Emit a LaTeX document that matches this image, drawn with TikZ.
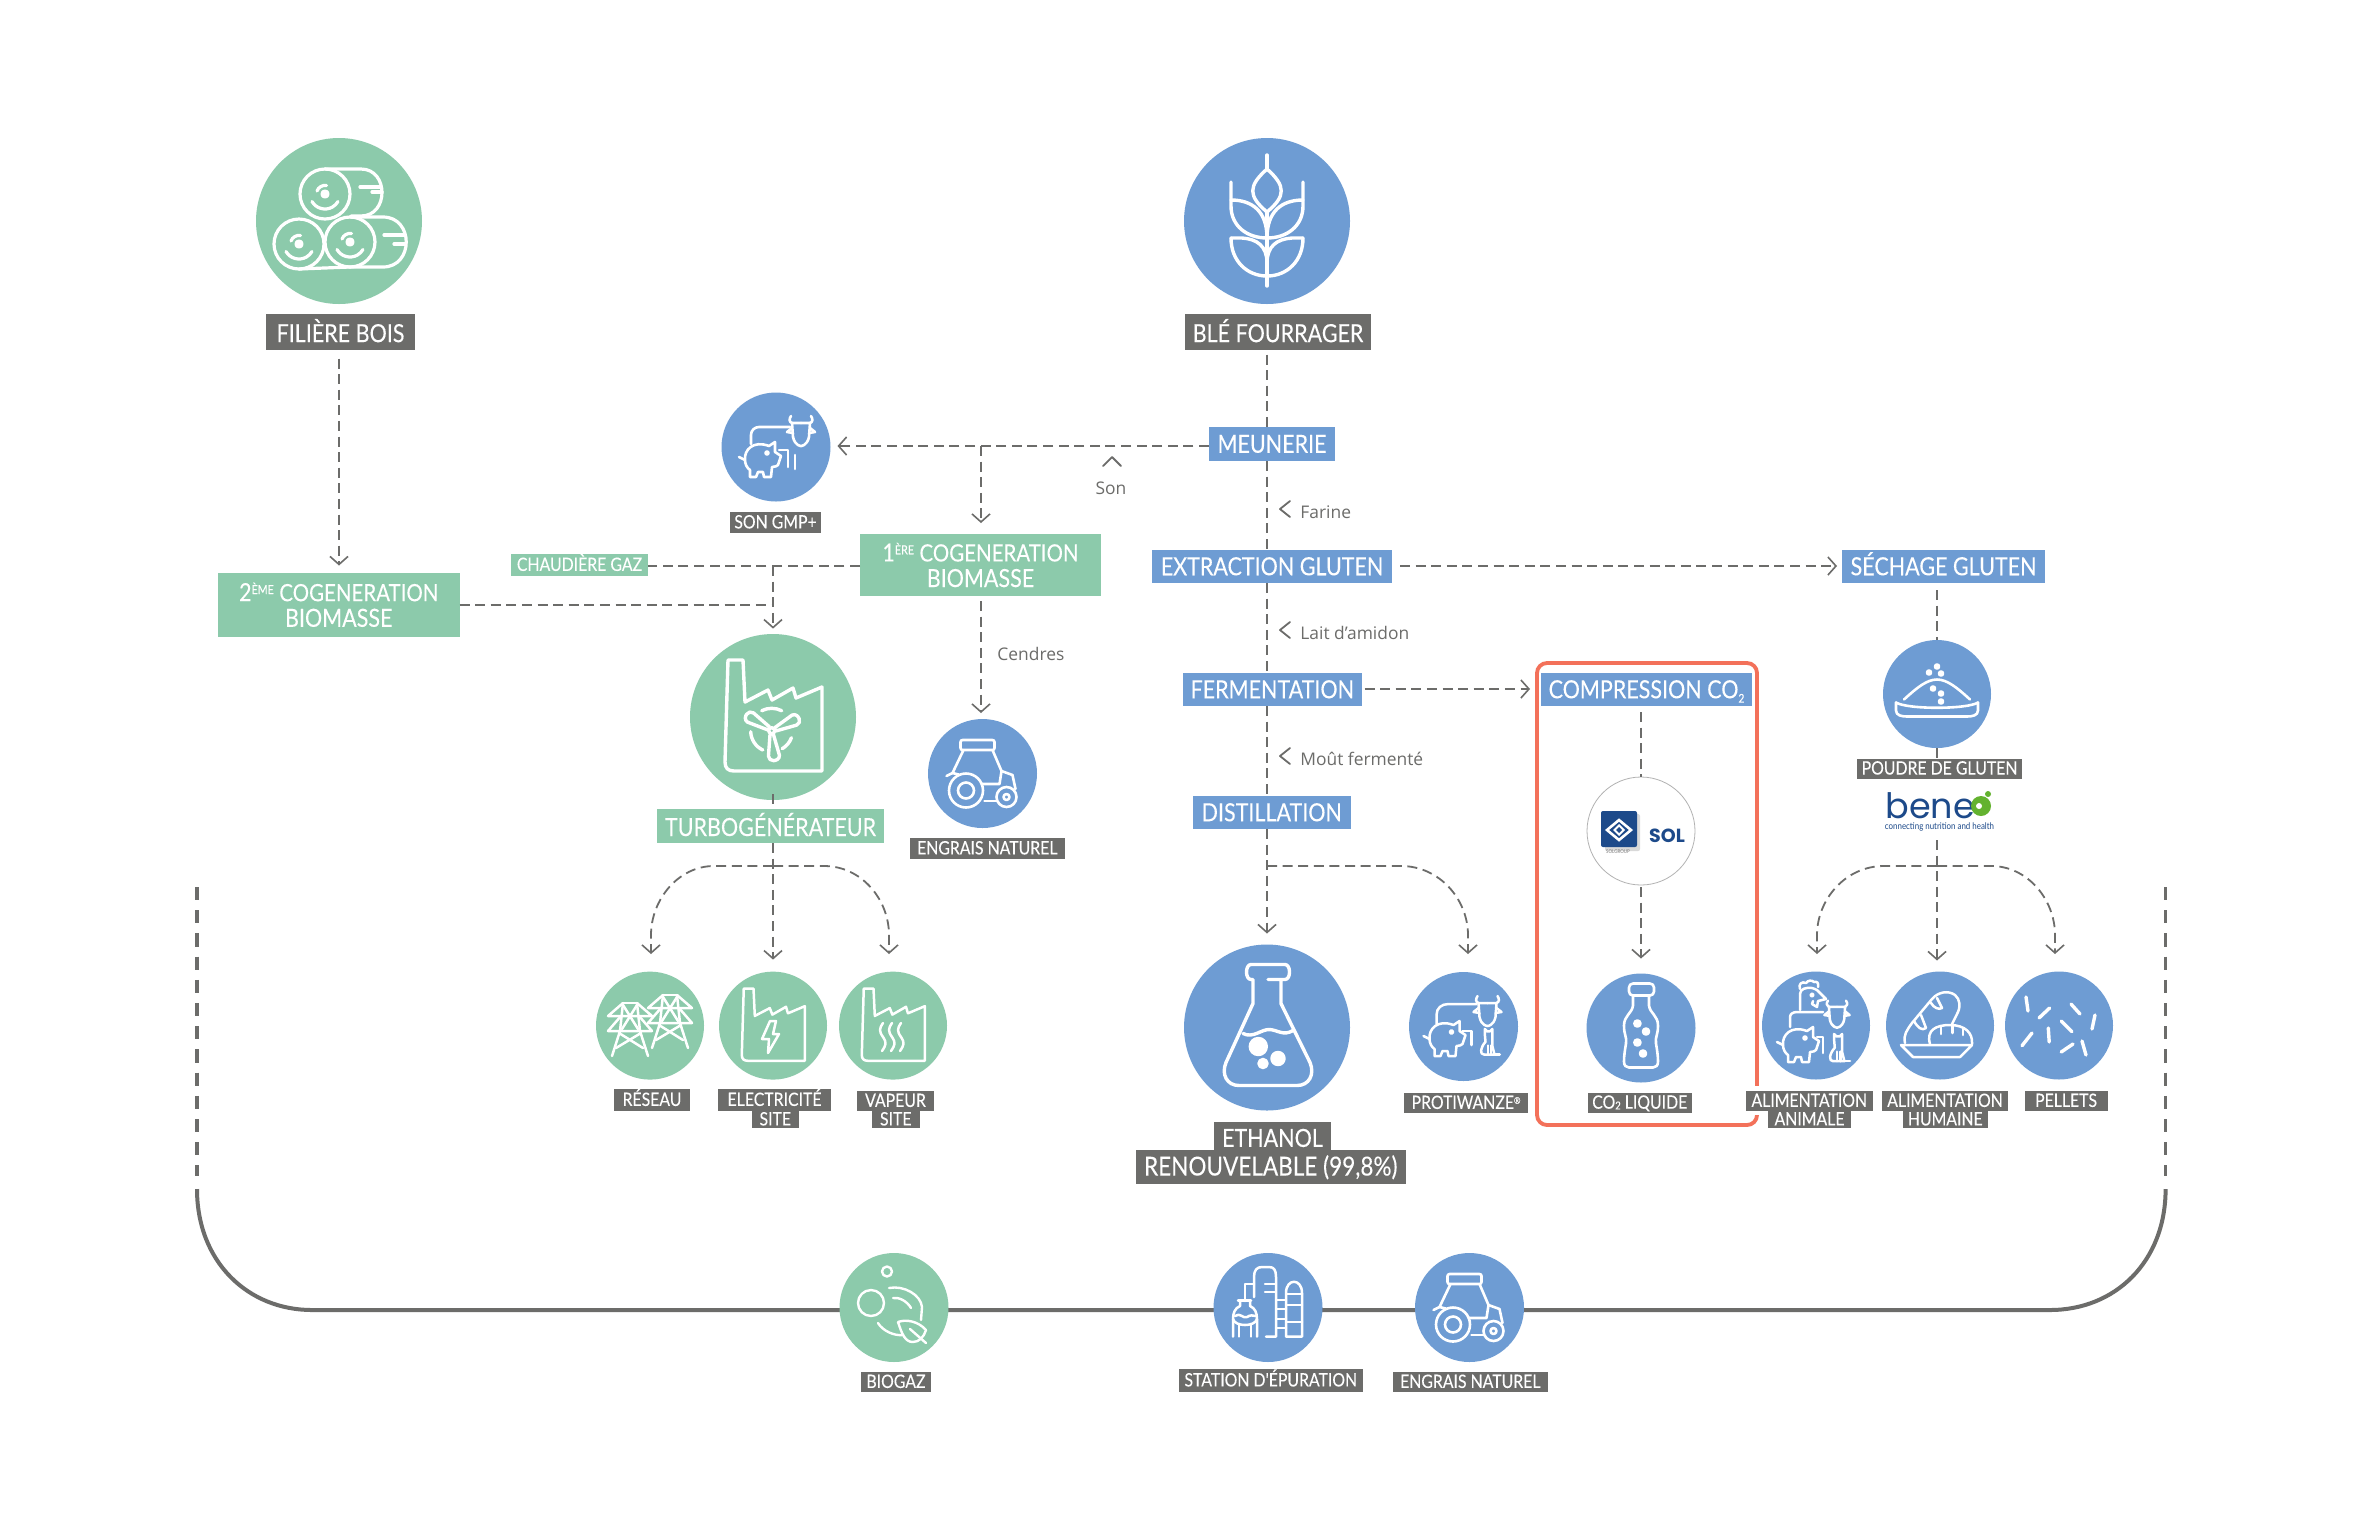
\documentclass[tikz,border=0pt]{standalone}
\usepackage{fontspec}
\usetikzlibrary{arrows.meta}
\setmainfont{Lato}
\newfontfamily\din[FakeStretch=0.86,FakeBold=0.12]{Lato}
\newfontfamily\dint[FakeStretch=0.86]{Lato}
\newfontfamily\rob{Open Sans}
\newfontfamily\pop{Poppins}
\definecolor{cbl}{HTML}{6E9CD3}
\definecolor{cgr}{HTML}{8CCAAB}
\definecolor{cgy}{HTML}{6C6C6A}
\definecolor{cre}{HTML}{F3715A}
\definecolor{cnv}{HTML}{1D4A8A}
\definecolor{cbg}{HTML}{63B22F}
\newcommand{\fL}{\din\fontsize{12.5}{12.8}\selectfont}
\newcommand{\fS}{\din\fontsize{9.2}{9.2}\selectfont}
\newcommand{\petitsup}[1]{\raisebox{3.6pt}{\fontsize{6.2}{6.2}\selectfont #1}}
\newcommand{\petitsub}[2]{\raisebox{#2}{\fontsize{#1}{#1}\selectfont 2}}
\tikzset{
 bx/.style={inner sep=0pt,outer sep=0pt,text=white,align=center},
 capL/.style={text height=9pt,text depth=0pt},
 capS/.style={text height=5.9pt,text depth=0pt},
 gL/.style={bx,capL,fill=cgy,font=\fL},
 gS/.style={bx,capS,fill=cgy,font=\fS},
 bL/.style={bx,capL,fill=cbl,font=\fL},
 vL/.style={bx,capL,fill=cgr,font=\fL},
 vD/.style={bx,fill=cgr,font=\fL},
 vS/.style={bx,capS,fill=cgr,font=\fS},
 rnd/.style={circle,inner sep=0pt,outer sep=0pt},
 cB/.style={rnd,fill=cbl},
 cV/.style={rnd,fill=cgr},
 dl/.style={draw=cgy,line width=0.9pt,dash pattern=on 5pt off 2.8pt},
 tip/.style={-{Straight Barb[length=4pt,width=9pt,line width=0.8pt]}},
 note/.style={inner sep=0pt,text=cgy,font=\rob\fontsize{8.7}{8.7}\selectfont},
 chev/.style={draw=cgy,line width=0.9pt,line cap=round,line join=round},
 ic/.style={draw=white,fill=none,line width=#1,line cap=round,line join=round},
 ic/.default=1.25pt,
}
\newcommand{\lbl}[7]{\node[#2,minimum width={(#5-#3)*0.5pt},minimum height={(#6-#4)*0.5pt}] (#1) at ({(#3+#5)/2},{(#4+#6)/2}) {#7};}
\newcommand{\rond}[5]{\node[#2,minimum size={2*#5*0.5pt}] (#1) at (#3,#4) {};}
% icons, in pixel offsets from the circle centre
\newcommand{\balle}[2]{\begin{scope}[shift={(#1,#2)}]
 \draw (0,0) circle (25); \fill[white] (0,0) circle (3);
 \draw (-13,7.5) arc (150:30:15); \draw (-8,-3) arc (200:280:8.5);
\end{scope}}
\newcommand{\icHay}{%
 \balle{-14}{-27}\balle{-40}{23}\balle{11}{21}
 \draw (-14,-52) -- (22,-52) .. controls (50,-52) and (50,-5) .. (22,-5) -- (12,-5);
 \draw (21,-34)--(42,-34); \draw (33,-29)--(43,-29);
 \draw (11,-4) -- (44,-4) .. controls (75,-4) and (75,46) .. (44,46) -- (11,46);
 \draw (-40,48)--(11,46);
 \draw (45,14)--(66,14); \draw (55,23)--(66,23);}
\newcommand{\demiBle}{%
 \draw (-36,-39) -- (-36,-15) .. controls (-36,5) and (-20,17) .. (0,17);
 \draw (-36,-21) .. controls (-15,-21) and (0,-10) .. (0,17);
 \draw (-36,17) -- (-25,17) .. controls (-10,18) and (0,25) .. (0,42);
 \draw (-36,17) .. controls (-36,40) and (-20,55) .. (0,55);}
\newcommand{\icBle}{%
 \draw (0,-66)--(0,-52);
 \draw (0,-52) .. controls (-19,-35) and (-19,-25) .. (0,-9) .. controls (19,-25) and (19,-35) .. (0,-52);
 \draw (0,-9)--(0,65);
 \demiBle \begin{scope}[xscale=-1]\demiBle\end{scope}}
\newcommand{\icFact}{\draw (-30,-56)--(-45,-56)--(-48,46) .. controls (-48,52) and (-45,55) .. (-39,55) -- (49,55) -- (49,-29) -- (23,-18) -- (20,-28) -- (-1,-16) -- (-5,-26) -- (-28,-14) -- cycle;}
\newcommand{\pale}{\draw (-1.5,-4) -- (-6,-25) .. controls (-6,-29) and (-2,-30) .. (0,-30) .. controls (3,-30) and (5,-28) .. (5,-25) -- (2,-4);}
\newcommand{\icTurb}{\begin{scope}[shift={(-1.3,14.7)}]
 \draw (0,0) circle (3);
 \begin{scope}[rotate=57]\pale\end{scope}
 \begin{scope}[rotate=-66]\pale\end{scope}
 \begin{scope}[rotate=184]\pale\end{scope}
 \draw (-10,-20) arc (243:297:22);
 \draw (-21,1) arc (178:115:21);
 \draw (10.5,18) arc (60:20:21);
\end{scope}}
\newcommand{\icPig}{%
 \draw (8,-14) .. controls (-8,-20) and (-17,-10) .. (-16,0) .. controls (-16,4) and (-14,8) .. (-11,10) -- (-11,17) -- (-5,17) -- (-3,12) -- (2,12) -- (3,17) -- (10,17) -- (11,7) .. controls (14,7) and (16,6) .. (17,5) -- (20,-4) -- (14,-8) -- (14,-18) -- cycle;
 \draw (-16,0)--(-22,-3); \fill[white] (6,-7) circle (1.8);}
\newcommand{\demiVache}{\draw (0,-9) -- (-9,-9) -- (-8,5) .. controls (-6,14) and (0,14) .. (0,14); \draw (-9,-9) .. controls (-12,-10) and (-12,-13) .. (-10,-16); \draw (-9,-4) -- (-14,0) -- (-8,1);}
\newcommand{\icCow}{\demiVache\begin{scope}[xscale=-1]\demiVache\end{scope}}
\newcommand{\icCat}{\draw (-5,-14)--(-5,-20)--(-2,-17)--(2,-17)--(5,-20)--(5,-13)--(5,2)--(8,14)--(-6,14) .. controls (-12,14) and (-11,5) .. (-4,-3)--cycle; \draw (-1,2)--(-1,14); \draw (3,2)--(3,14); \draw (8,14)--(15,14);}
\newcommand{\icGMP}{%
 \begin{scope}[shift={(-15,13)}]\icPig\end{scope}
 \begin{scope}[shift={(25,-15)}]\icCow\end{scope}
 \draw (-25,-3) -- (-25,-12) .. controls (-25,-17) and (-21,-20) .. (-17,-20) -- (14,-20);
 \draw (3,3)--(12,3)--(12,20); \draw (19,8)--(19,22);}
\newcommand{\icProti}{%
 \begin{scope}[shift={(-18,13)}]\icPig\end{scope}
 \begin{scope}[shift={(24,-14)}]\icCow\end{scope}
 \begin{scope}[shift={(25,18)},scale=.75]\icCat\end{scope}
 \draw (-27,-2) -- (-27,-11) .. controls (-27,-18) and (-22,-22) .. (-15,-22) -- (13,-22);
 \draw (-1,5)--(8,5)--(8,19);}
\newcommand{\icAnim}{%
 \begin{scope}[shift={(-17,20)}]\icPig\end{scope}
 \begin{scope}[shift={(21,-10)},scale=.9]\icCow\end{scope}
 \begin{scope}[shift={(22,25)},scale=.8]\icCat\end{scope}
 \draw (-16,-15) -- (-16,-31) .. controls (-16,-36) and (-10,-38) .. (-4,-37) .. controls (0,-36) and (3,-34) .. (5,-31) -- (10,-26) -- (2,-24) -- (1,-18) -- (-4,-21) -- (-3,-24);
 \fill[white] (-4,-30) circle (1.5);
 \draw (-16,-36) .. controls (-18,-41) and (-14,-44) .. (-10,-42) .. controls (-8,-45) and (-4,-45) .. (-2,-43) .. controls (1,-44) and (3,-42) .. (2,-38);
 \draw (-26,2) -- (-26,-8) .. controls (-26,-11) and (-23,-13) .. (-19,-13) -- (7,-13);
 \draw (1,12)--(7,12)--(7,28);}
\newcommand{\icTrac}{%
 \draw (-16.5,17.5) circle (17); \draw (-16.5,17.5) circle (8);
 \draw (24,24) circle (10); \draw (24,24) circle (3);
 \draw[rounded corners=1pt] (-22,-33) rectangle (12,-23);
 \draw (-19,-23)--(-30,0)--(-36,3);
 \draw (10,-23)--(19,-2)--(30,2)--(33,16);
 \draw (-30,0) -- (-24,1.5);
 \draw (-1,11) -- (17,11) -- (19,-2);
 \draw (2,28)--(14,28);}
\newcommand{\icFlask}{%
 \draw (1,-47)--(18,-47) .. controls (24,-47) and (24,-62) .. (18,-62) -- (-16,-62) .. controls (-22,-62) and (-22,-47) .. (-16,-47) -- (-14,-47) -- (-14,-23) -- (-41,36) .. controls (-46,48) and (-40,59) .. (-28,59) -- (30,59) .. controls (42,59) and (48,48) .. (43,36) -- (14,-23) -- (14,-47);
 \draw (-24,7) .. controls (-14,12) and (-6,3) .. (2,3) .. controls (10,3) and (16,10) .. (26,4);
 \fill[white] (-8.7,20) circle (8) (11,32) circle (6) (-4,37) circle (4);}
\newcommand{\icPylon}{%
 \draw (-7,0)--(7,0);
 \draw (-7,0)--(-22,13)--(22,13)--(7,0);
 \draw (-9,13)--(-22,28)--(22,28)--(9,13);
 \draw (-7,0)--(-10,28)--(-18,53);
 \draw (7,0)--(10,28)--(18,53);
 \draw (-7,2)--(8,26); \draw (7,2)--(-8,26);
 \draw (-11,30)--(13,45); \draw (11,30)--(-14,45);}
\newcommand{\icEclair}{\draw (-3,-4)--(-11,14)--(-4,14)--(-5,28)--(6,9)--(0,9)--(3,-4)--cycle;}
\newcommand{\icVapeur}{\foreach \xx in {-10,-1,8}{\draw (\xx,-2) .. controls (\xx-4,4) and (\xx-4,6) .. (\xx,12) .. controls (\xx+4,18) and (\xx+3,20) .. (\xx-1,26);}}
\newcommand{\icBottle}{%
 \draw[rounded corners=2pt] (-12,-44) rectangle (13,-32);
 \draw (-8,-32) -- (-8,-22) .. controls (-9,-14) and (-17,-12) .. (-17,-2) .. controls (-17,8) and (-14,9) .. (-15,16) .. controls (-16,22) and (-17,28) .. (-17,34) .. controls (-17,38) and (-15,40) .. (-12,40) -- (12,40) .. controls (15,40) and (17,38) .. (17,34) .. controls (17,28) and (16,22) .. (15,16) .. controls (14,9) and (17,8) .. (17,-2) .. controls (17,-12) and (9,-14) .. (8,-22) -- (8,-32);
 \fill[white] (-3.6,-4) circle (3) (5,4) circle (3) (-3.6,15) circle (3) (2,26) circle (3);}
\newcommand{\icBread}{%
 \draw (-39,20)--(32,20)--(20,32)--(-27,32)--cycle;
 \draw (-10,19) .. controls (-14,5) and (-4,0) .. (10,0) .. controls (25,0) and (33,8) .. (32,19);
 \draw (1,2)--(1,9); \draw (12.5,1)--(12.5,8); \draw (23,4)--(23,10);
 \draw (-35,18) .. controls (-37,10) and (-33,5) .. (-28,-2) -- (-8,-26) .. controls (-2,-33) and (8,-35) .. (15,-30) .. controls (20,-26) and (21,-18) .. (17,-11) -- (12,-1);
 \draw (-26,-4) .. controls (-22,3) and (-18,6) .. (-14,3) -- (-19,-10);
 \draw (-9,-22) .. controls (-6,-17) and (-1,-15) .. (2,-17) -- (-3,-27);}
\newcommand{\icPellets}{\begin{scope}[line width=1.7pt]
 \draw (-33,-28)--(-31,-14); \draw (-20,-7)--(-9.4,-17); \draw (12,-21)--(21,-11); \draw (36,-10)--(33,4);
 \draw (2.2,-4)--(13,6.7); \draw (-10.7,3)--(-9.8,17); \draw (-37,20.7)--(-27,8); \draw (2.2,27)--(14,19); \draw (23,16)--(27,30);
\end{scope}}
\newcommand{\icPowder}{%
 \draw (-41,9) -- (-41,17) .. controls (-41,22) and (-35,23) .. (-30,23) -- (30,23) .. controls (35,23) and (41,22) .. (41,17) -- (41,9);
 \draw (-41,9) .. controls (-30,16) and (30,16) .. (41,9);
 \draw (-33,6) .. controls (-20,-6) and (-10,-14) .. (0,-14) .. controls (10,-14) and (20,-6) .. (33,6);
 \fill[white] (0,-27) circle (2) (-8,-21) circle (2) (4,-20) circle (2) (-4,-5) circle (2) (4,0) circle (2) (4,8) circle (2);}
\newcommand{\icBiogaz}{%
 \draw (-7,-35.5) circle (5); \draw (-23,-4) circle (13);
 \draw (-5,-19) .. controls (10,-22) and (27,-12) .. (28,0) -- (27,13);
 \draw (-1,-9) .. controls (5,-10) and (13,-6) .. (17,1);
 \draw (-16,16) .. controls (-11,24) and (0,29) .. (9,28);
 \draw (4,15) .. controls (12,12) and (24,14) .. (32,23) .. controls (30,30) and (25,35) .. (19,35) .. controls (11,35) and (8,27) .. (4,15);
 \draw (16,22) -- (32,36);}
\newcommand{\icStation}{%
 \draw (-14,-10) -- (-14,-30) .. controls (-14,-37) and (-11,-40) .. (-6,-40) -- (1,-40) .. controls (6,-40) and (8,-37) .. (8,-30) -- (8,29.5) -- (-2,29.5);
 \draw (-14,-23)--(-23,-23)--(-23,-6);
 \draw (-3,-23)--(7,-23); \draw (-3,-15)--(7,-15);
 \draw (8,-7)--(18,-7); \draw (8,2)--(18,2); \draw (8,12)--(18,12); \draw (8,21)--(18,21);
 \draw (18,29.5)--(18,-14) .. controls (18,-29) and (34,-29) .. (34,-14) -- (34,29.5) -- cycle;
 \draw (18,-13)--(34,-13); \draw (18,-2)--(34,-2); \draw (18,15)--(34,15);
 \draw (-30,-6.5)--(-17,-6.5);
 \draw (-28,-6)--(-28,-1) .. controls (-33,1) and (-35,6) .. (-35,12) -- (-35,29.5);
 \draw (-18,-6)--(-18,-1) .. controls (-13,1) and (-11,6) .. (-11,12) -- (-11,29.5);
 \draw (-35,12) .. controls (-33,20) and (-13,20) .. (-11,12);
 \draw (-33,9) .. controls (-28,5) and (-25,12) .. (-21,10) .. controls (-18,8) and (-15,8) .. (-12,9);
 \draw (-29,18)--(-29,29.5); \draw (-17,18)--(-17,29.5);}
\begin{document}
\begin{tikzpicture}[x=0.5pt,y=-0.5pt]
\useasboundingbox (0,0) rectangle (2362,1533);
\fill[white] (0,0) rectangle (2362,1533);
% --- return loop
\coordinate (ul) at (197,887); \coordinate (ulb) at (197,1176); \coordinate (uls) at (197,1189);
\coordinate (ur) at (2165.6,887); \coordinate (urb) at (2165.6,1176); \coordinate (urs) at (2165.6,1189);
\draw[cgy,line width=1.8pt,dash pattern=on 6.6pt off 5pt] (ul)--(ulb);
\draw[cgy,line width=1.8pt,dash pattern=on 6.6pt off 5pt] (ur)--(urb);
\draw[cgy,line width=2pt] (uls) .. controls (197,1262) and (248,1310) .. (312,1310) -- (2050,1310) .. controls (2115,1310) and (2165.6,1262) .. (urs);
% --- red frame
\draw[cre,line width=1.9pt,rounded corners=5pt] (1537,663) rectangle (1757,1125);
\fill[white] (1742,1086) rectangle (1875,1115);
% --- circles
\rond{cfil}{cV}{339}{221}{83}
\rond{cble}{cB}{1267}{221}{83}
\rond{cson}{cB}{776}{447}{54.5}
\rond{ctur}{cV}{773}{717}{83}
\rond{cengA}{cB}{982.5}{773.5}{54.5}
\rond{ceth}{cB}{1267}{1027.5}{83}
\rond{cres}{cV}{650}{1025.6}{54}
\rond{cele}{cV}{773}{1025.6}{54}
\rond{cvap}{cV}{893}{1025.6}{54}
\rond{cpro}{cB}{1463.5}{1026.5}{54.5}
\rond{cco}{cB}{1641}{1028}{54.5}
\rond{cani}{cB}{1816}{1025.5}{54}
\rond{chum}{cB}{1940}{1025.5}{54}
\rond{cpel}{cB}{2059}{1025.5}{54}
\rond{cpou}{cB}{1937}{694}{54}
\node[rnd,draw=black!30,line width=0.4pt,fill=white,minimum size=54pt] (csol) at (1641,831) {};
\rond{cbio}{cV}{894}{1307.5}{54.5}
\rond{csta}{cB}{1268}{1307.5}{54.5}
\rond{cengB}{cB}{1469.5}{1307.5}{54.5}
% --- labels
\lbl{lfil}{gL}{266}{314}{415}{349.5}{\raisebox{-.7pt}{FILIÈRE BOIS}}
\lbl{lble}{gL}{1185}{314}{1371}{349.5}{\raisebox{-.7pt}{BLÉ FOURRAGER}}
\lbl{lmeu}{bL}{1209}{426.5}{1335}{461}{MEUNERIE}
\lbl{lson}{gS}{730}{512}{821}{533}{SON GMP+}
\lbl{lext}{bL}{1152}{549.5}{1392}{583}{EXTRACTION GLUTEN}
\lbl{lsec}{bL}{1842}{549.5}{2045}{583}{SÉCHAGE GLUTEN}
\lbl{lpre}{vD}{860}{534}{1101}{596}{1\petitsup{ÈRE} {\fontsize{11.9}{13.2}\selectfont COGENERATION}\\BIOMASSE}
\lbl{ldeu}{vD}{218}{572.5}{459.5}{637}{2\petitsup{ÈME} {\fontsize{11.9}{13.2}\selectfont COGENERATION}\\BIOMASSE}
\lbl{lcha}{vS}{511}{554}{648}{576}{CHAUDIÈRE GAZ}
\lbl{lfer}{bL}{1183}{672.5}{1361.5}{706}{FERMENTATION}
\lbl{lcom}{bL}{1541}{672.5}{1752}{706}{COMPRESSION CO\petitsub{6}{-2.2pt}}
\lbl{lpou}{gS}{1857}{758.6}{2022}{778.6}{POUDRE DE GLUTEN}
\lbl{ldis}{bL}{1192.5}{795.5}{1351}{829}{DISTILLATION}
\lbl{ltur}{vL}{657}{809}{884}{843}{\raisebox{-.5pt}{TURBOGÉNÉRATEUR}}
\lbl{leng}{gS}{909.5}{838}{1065}{859}{ENGRAIS NATUREL}
\lbl{lres}{gS}{614}{1089}{690}{1111}{RÉSEAU}
\lbl{lele}{gS}{718}{1089}{831}{1111}{ELECTRICITÉ}
\lbl{lels}{gS}{751.5}{1111}{799}{1128}{SITE}
\lbl{lvap}{gS}{857}{1091}{934}{1111}{VAPEUR}
\lbl{lvas}{gS}{871.5}{1111}{920}{1128}{SITE}
\lbl{leta}{gL}{1214}{1121.5}{1331}{1149.5}{\raisebox{-1.2pt}{ETHANOL}}
\lbl{lren}{gL}{1135.5}{1149.5}{1406}{1183.5}{\fontsize{13.1}{13.1}\selectfont RENOUVELABLE (99,8\%)}
\lbl{lpro}{gS}{1404}{1093}{1528}{1113}{PROTIWANZE\raisebox{2.6pt}{\fontsize{4.5}{4.5}\selectfont ®}}
\lbl{lco}{gS}{1588}{1092.5}{1691.5}{1113}{CO\petitsub{5.5}{-.4pt} LIQUIDE}
\lbl{lali}{gS}{1745.5}{1091}{1873}{1111}{ALIMENTATION}
\lbl{lani}{gS}{1768}{1111}{1851}{1128}{ANIMALE}
\lbl{lalh}{gS}{1882}{1091}{2008}{1111}{ALIMENTATION}
\lbl{lhum}{gS}{1903}{1111}{1987.5}{1128}{HUMAINE}
\lbl{lpel}{gS}{2024.5}{1091}{2107.6}{1111}{PELLETS}
\lbl{lbio}{gS}{860.6}{1372}{931.4}{1392}{BIOGAZ}
\lbl{lsta}{gS}{1179}{1369}{1362.5}{1392}{STATION D'ÉPURATION}
\lbl{lenb}{gS}{1392.5}{1372}{1548}{1392}{ENGRAIS NATUREL}
% --- connectors
\draw[dl,tip,shorten <=4.5pt,shorten >=3.5pt] (lfil.south -| cfil.center) -- (ldeu.north -| cfil.center);
\draw[dl,shorten <=2.5pt] (lble.south -| cble.center) -- (lmeu.north -| cble.center);
\draw[dl] (lmeu.south -| cble.center) -- (lext.north -| cble.center);
\draw[dl] (lext.south -| cble.center) -- (lfer.north -| cble.center);
\draw[dl] (lfer.south -| cble.center) -- (ldis.north -| cble.center);
\draw[dl,tip,shorten >=5.5pt] (ldis.south -| cble.center) -- (ceth.north);
\coordinate (json) at (981,446);
\draw[dl,tip,shorten >=3.5pt] (lmeu.west |- json) -- (json) -- (cson.east |- json);
\draw[dl,tip,shorten >=5.5pt] (json) -- (lpre.north -| json);
\draw[dl,tip,shorten <=2.5pt,shorten >=3pt] (lpre.south -| json) -- (cengA.north -| json);
\coordinate (jcha) at (648,566);
\draw[dl] (lpre.west |- jcha) -- (jcha);
\draw[dl,tip,shorten >=2.7pt] (ctur.north |- jcha) -- (ctur.north);
\coordinate (jdeu) at (459.5,605);
\draw[dl] (jdeu) -- (ctur.north |- jdeu);
\coordinate (jext) at (1392,566);
\draw[dl,tip,shorten <=4pt,shorten >=2.5pt] (jext) -- (lsec.west |- jext);
\coordinate (jfer) at (1361.5,689);
\draw[dl,tip,shorten <=1.5pt,shorten >=5.5pt] (jfer) -- (lcom.west |- jfer);
\draw[dl,shorten <=3pt] (lcom.south -| csol.center) -- (csol.north);
\draw[dl,tip,shorten <=1pt,shorten >=7.5pt] (csol.south) -- (cco.north -| csol.south);
\draw[dl,shorten <=3.5pt] (lsec.south -| cpou.center) -- (cpou.north);
\draw[dl] (cpou.south) -- (lpou.north -| cpou.south);
% turbogenerator fan
\draw[dl,shorten <=-3pt] (ctur.south) -- (ltur.north -| ctur.south);
\draw[dl,tip,shorten >=6pt] (ltur.south -| ctur.south) -- (cele.north);
\coordinate (at) at (773,866); \coordinate (atl) at (651,954); \coordinate (atr) at (889,954);
\draw[dl,tip] (at) -- (714,866) .. controls (678,866) and (651,900) .. (651,935) -- (atl);
\draw[dl,tip] (at) -- (824,866) .. controls (862,866) and (889,900) .. (889,935) -- (atr);
% ethanol side branch
\coordinate (ae) at (1267,866); \coordinate (aep) at (1468,954);
\draw[dl,tip] (ae) -- (1401,866) .. controls (1440,866) and (1468,900) .. (1468,935) -- (aep);
% gluten fan
\coordinate (ag) at (1937,866); \coordinate (agt) at (1937,840); \coordinate (agl) at (1817,954); \coordinate (agr) at (2055,954);
\draw[dl,tip,shorten >=5.5pt] (agt) -- (chum.north -| agt);
\draw[dl,tip] (ag) -- (1884,866) .. controls (1845,866) and (1817,900) .. (1817,935) -- (agl);
\draw[dl,tip] (ag) -- (1991,866) .. controls (2028,866) and (2055,900) .. (2055,935) -- (agr);
% --- chevrons and notes
\draw[chev] (1103,466)--(1112,457)--(1121,466);
\draw[chev] (1290,501)--(1280,509)--(1290,517);
\draw[chev] (1290,622)--(1280,630)--(1290,638);
\draw[chev] (1290,748)--(1280,756)--(1290,764);
\node[note] (nson) at (1111,488) {Son};
\node[note,anchor=west] (nfar) at (1300,512) {Farine};
\node[note,anchor=west] (nlai) at (1300,633) {Lait d’amidon};
\node[note,anchor=west] (nmou) at (1300,759) {Moût fermenté};
\node[note,anchor=west] (ncen) at (997,654) {Cendres};
% --- icons
\begin{scope}[shift={(339,221)},every path/.style={ic=1.6pt}]\icHay\end{scope}
\begin{scope}[shift={(1267,221)},every path/.style={ic=1.7pt}]\icBle\end{scope}
\begin{scope}[shift={(773,716)},every path/.style={ic=1.7pt}]\icFact\icTurb\end{scope}
\begin{scope}[shift={(776,447)},every path/.style={ic=1.3pt}]\icGMP\end{scope}
\begin{scope}[shift={(982.5,773)},every path/.style={ic=1.3pt}]\icTrac\end{scope}
\begin{scope}[shift={(1267,1026.5)},every path/.style={ic=1.7pt}]\icFlask\end{scope}
\begin{scope}[shift={(630,1003)},every path/.style={ic=1.25pt}]\icPylon\end{scope}
\begin{scope}[shift={(670,995)},every path/.style={ic=1.25pt}]\icPylon\end{scope}
\begin{scope}[shift={(773,1025)},every path/.style={ic=1.25pt}]\begin{scope}[scale=.65]\icFact\end{scope}\icEclair\end{scope}
\begin{scope}[shift={(893,1025)},every path/.style={ic=1.25pt}]\begin{scope}[scale=.65]\icFact\end{scope}\icVapeur\end{scope}
\begin{scope}[shift={(1463.5,1026)},every path/.style={ic=1.25pt}]\icProti\end{scope}
\begin{scope}[shift={(1641,1027.5)},every path/.style={ic=1.3pt}]\icBottle\end{scope}
\begin{scope}[shift={(1816,1025)},every path/.style={ic=1.25pt}]\icAnim\end{scope}
\begin{scope}[shift={(1940,1025)},every path/.style={ic=1.25pt}]\icBread\end{scope}
\begin{scope}[shift={(2059,1025)},every path/.style={ic=1.7pt}]\icPellets\end{scope}
\begin{scope}[shift={(1937,693.5)},every path/.style={ic=1.3pt}]\icPowder\end{scope}
\begin{scope}[shift={(894,1307)},every path/.style={ic=1.2pt}]\icBiogaz\end{scope}
\begin{scope}[shift={(1268,1307)},every path/.style={ic=1.25pt}]\icStation\end{scope}
\begin{scope}[shift={(1469.5,1307)},every path/.style={ic=1.3pt}]\icTrac\end{scope}
% --- SOL logo
\fill[black!15,rounded corners=1pt] (1605,814) rectangle (1640,851);
\fill[cnv,rounded corners=1pt] (1601,811) rectangle (1637,847);
\draw[white,line width=1.3pt] (1619,820)--(1631,830)--(1619,840)--(1607,830)--cycle;
\fill[white] (1619,824)--(1625,830)--(1619,836)--(1613,830)--cycle;
\fill[cnv] (1619,827)--(1622,830)--(1619,833)--(1616,830)--cycle;
\node[inner sep=0pt,text=cnv,font=\pop\bfseries\fontsize{9.5}{9.5}\selectfont] (tsol) at (1667,836) {SOL};
\node[inner sep=0pt,text=black!50,font=\dint\fontsize{2.6}{2.6}\selectfont] (tgrp) at (1618,852) {SOLGROUP};
% --- beneo logo
\node[inner sep=0pt,anchor=base west,text=cnv,font=\pop\fontsize{17.5}{17.5}\selectfont] (tben) at (1885,818) {bene};
\fill[cbg] (1981,806) circle (10);
\fill[white] (1979,806) circle (3);
\fill[cbg] (1988,794) circle (3);
\node[inner sep=0pt,text=cnv,font=\dint\fontsize{4.6}{4.6}\selectfont] (ttag) at (1939.5,827) {connecting nutrition and health};
\end{tikzpicture}
\end{document}
